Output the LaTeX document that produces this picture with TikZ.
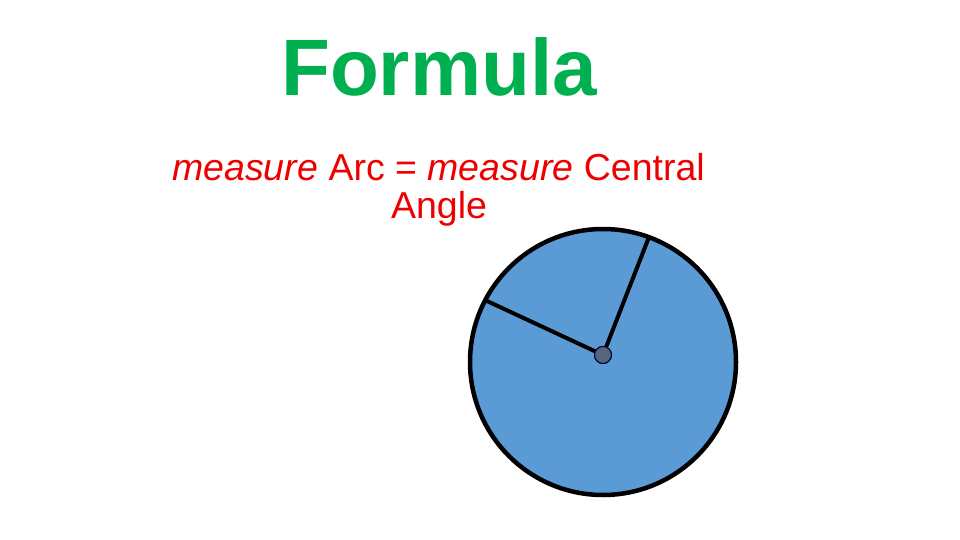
\documentclass[tikz,border=0pt]{standalone}
\usepackage{fontspec}
\setmainfont{Liberation Sans}
\definecolor{titlegreen}{HTML}{00B050}
\definecolor{textred}{HTML}{EE0000}
\definecolor{discblue}{HTML}{5B9BD5}
\definecolor{dotgray}{HTML}{56657A}
\begin{document}
\begin{tikzpicture}[x=1pt,y=-1pt,
  titletext/.style={anchor=base,inner sep=0pt,text=titlegreen,font=\fontsize{80}{90}\selectfont\bfseries},
  redtext/.style={anchor=base,inner sep=0pt,text=textred,font=\fontsize{37.5}{42}\selectfont},
  disc/.style={draw=black,line width=4.5pt,fill=discblue},
  radius line/.style={draw=black,line width=4pt},
  centerdot/.style={circle,draw=black!80!blue,line width=1pt,fill=dotgray,minimum size=17pt,inner sep=0pt}]
\useasboundingbox[fill=white] (0,0) rectangle (960,540);
\node[titletext] (title) at (439,96) {Formula};
\node[redtext] (line1) at (438.5,181) {\textit{measure} Arc = \textit{measure} Central};
\node[redtext] (line2) at (439,218) {Angle};
\path[disc] (603,362) circle[radius=133];
\coordinate (p1) at (649,237);
\coordinate (p2) at (487,301);
\node[centerdot] (c) at (603,355) {};
\draw[radius line] (c.center) -- (p1);
\draw[radius line] (c.center) -- (p2);
\node[centerdot] at (c) {};
\end{tikzpicture}
\end{document}
